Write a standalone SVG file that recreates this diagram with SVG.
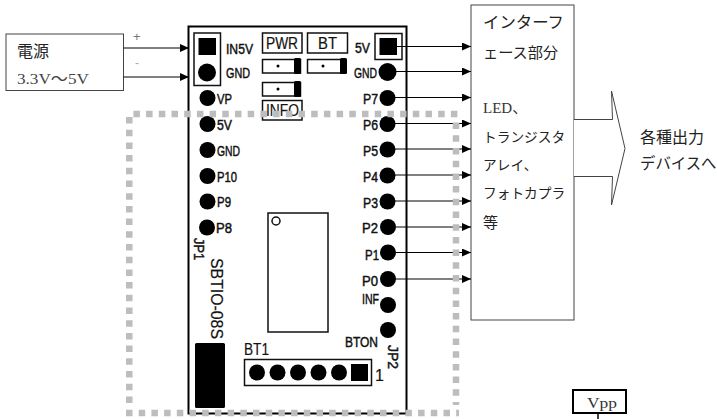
<svg xmlns="http://www.w3.org/2000/svg" width="717" height="419" viewBox="0 0 717 419">
<defs>
<marker id="a" markerUnits="userSpaceOnUse" markerWidth="9" markerHeight="8" refX="9" refY="4" orient="auto"><path d="M0 0L9 4L0 8Z" fill="#000"/></marker>
</defs>
<style>
text{font-family:"Liberation Sans",Arial,sans-serif;fill:#111}
.pcb{font-size:14px;stroke:#111;stroke-width:.45}
.big{font-size:16px;stroke:#222;stroke-width:.2}
.jp{font-family:"Noto Sans CJK JP","Liberation Sans",sans-serif;fill:#222}
.ser{font-family:"Liberation Serif","Noto Sans CJK JP",serif;font-size:15px;fill:#444}
.box{fill:#fff;stroke:#444;stroke-width:1}
.o{fill:none;stroke:#111;stroke-width:1.5}
.k{fill:#000}
.c{stroke:#000;stroke-width:1;fill:none;marker-end:url(#a)}
.d{fill:none;stroke:#bdbdbd;stroke-width:6.500;stroke-dasharray:6.500 6.200}
</style>
<g id="power"><rect class="box" x="6" y="34" width="117.500" height="56.500"/>
<text class="jp" x="17" y="57" font-size="16">電源</text>
<text class="ser" x="17" y="84" textLength="72" lengthAdjust="spacingAndGlyphs">3.3V〜5V</text>
<text x="133" y="41" font-size="13" style="fill:#777">+</text>
<text x="135" y="67" font-size="12" style="fill:#aaa">-</text></g>
<g id="board">
<rect x="188.500" y="26.500" width="218" height="387" fill="#fff" stroke="#000" stroke-width="2"/>
<rect class="o" x="194" y="33" width="26.500" height="52.500" stroke-width="2"/>
<rect class="k" x="198.500" y="38" width="17.500" height="17"/>
<circle class="k" cx="207" cy="72.500" r="9"/>
<text class="pcb" x="226" y="54" textLength="27" lengthAdjust="spacingAndGlyphs">IN5V</text>
<text class="pcb" x="226" y="78" textLength="24" lengthAdjust="spacingAndGlyphs">GND</text>
<rect class="o" x="262.500" y="33" width="39.500" height="20"/><text class="big" x="266" y="49" textLength="32" lengthAdjust="spacingAndGlyphs">PWR</text>
<rect class="o" x="307.500" y="33" width="40" height="20"/><text class="big" x="318" y="49" textLength="19" lengthAdjust="spacingAndGlyphs">BT</text>
<g id="led1"><rect class="o" x="262.500" y="59.500" width="38" height="13.500"/><rect class="k" x="294" y="58" width="7" height="16" rx="1.500"/><circle class="k" cx="278" cy="66" r="1.500"/></g>
<g id="led2"><rect class="o" x="307.500" y="59.500" width="38" height="13.500"/><rect class="k" x="340" y="58" width="7" height="16" rx="1.500"/><circle class="k" cx="323" cy="66" r="1.500"/></g>
<g id="led3"><rect class="o" x="262.500" y="82.500" width="38" height="13.500"/><rect class="k" x="294" y="81" width="7" height="16" rx="1.500"/><circle class="k" cx="278" cy="89" r="1.500"/></g>
<rect class="o" x="262.500" y="100.500" width="39.500" height="19.500"/><text class="big" x="266" y="116" textLength="33" lengthAdjust="spacingAndGlyphs">INFO</text>
<g id="jp1">
<circle class="k" cx="207.500" cy="98" r="8"/><text class="pcb" x="217" y="104" textLength="15" lengthAdjust="spacingAndGlyphs">VP</text>
<circle class="k" cx="207.500" cy="124" r="8"/><text class="pcb" x="217" y="130" textLength="15" lengthAdjust="spacingAndGlyphs">5V</text>
<circle class="k" cx="207.500" cy="150" r="8"/><text class="pcb" x="217" y="156" textLength="23" lengthAdjust="spacingAndGlyphs">GND</text>
<circle class="k" cx="207.500" cy="176" r="8"/><text class="pcb" x="217" y="182" textLength="20" lengthAdjust="spacingAndGlyphs">P10</text>
<circle class="k" cx="207.500" cy="201.500" r="8"/><text class="pcb" x="217" y="207" textLength="14" lengthAdjust="spacingAndGlyphs">P9</text>
<circle class="k" cx="207" cy="227.500" r="8"/><text class="pcb" x="216" y="233" textLength="16" lengthAdjust="spacingAndGlyphs">P8</text>
<text class="pcb" transform="translate(194 238) rotate(90)" textLength="22" lengthAdjust="spacingAndGlyphs">JP1</text>
</g>
<text class="big" transform="translate(211 258) rotate(90)" textLength="81" lengthAdjust="spacingAndGlyphs">SBTIO-08S</text>
<rect class="k" x="195" y="343" width="30" height="65" rx="1.500"/>
<rect class="o" x="268" y="213" width="60" height="119"/>
<circle cx="276" cy="221" r="4" fill="#fff" stroke="#111" stroke-width="1.500"/>
<text class="big" x="244" y="355" textLength="25" lengthAdjust="spacingAndGlyphs">BT1</text>
<g id="bt1"><rect class="o" x="244.500" y="359.500" width="127" height="26"/>
<circle class="k" cx="257" cy="372.500" r="8"/><circle class="k" cx="277.500" cy="372.500" r="8"/><circle class="k" cx="298" cy="372.500" r="8"/><circle class="k" cx="318.500" cy="372.500" r="8"/><circle class="k" cx="339" cy="372.500" r="8"/><rect class="k" x="351" y="364" width="17" height="17"/></g>
<text class="big" x="375" y="381">1</text>
<g id="jp2">
<rect class="o" x="375" y="33.500" width="27" height="26" stroke-width="2"/><rect class="k" x="379.500" y="38" width="17.500" height="17"/>
<text class="pcb" x="355" y="53" textLength="15" lengthAdjust="spacingAndGlyphs">5V</text>
<circle class="k" cx="387.500" cy="72" r="9"/><text class="pcb" x="354" y="78" textLength="23" lengthAdjust="spacingAndGlyphs">GND</text>
<circle class="k" cx="387.500" cy="98" r="8"/><text class="pcb" x="363" y="104" textLength="15" lengthAdjust="spacingAndGlyphs">P7</text>
<circle class="k" cx="387.500" cy="124" r="8"/><text class="pcb" x="363" y="130" textLength="15" lengthAdjust="spacingAndGlyphs">P6</text>
<circle class="k" cx="387.500" cy="149.500" r="8"/><text class="pcb" x="363" y="156" textLength="15" lengthAdjust="spacingAndGlyphs">P5</text>
<circle class="k" cx="387.500" cy="175.500" r="8"/><text class="pcb" x="363" y="182" textLength="15" lengthAdjust="spacingAndGlyphs">P4</text>
<circle class="k" cx="387.500" cy="201.500" r="8"/><text class="pcb" x="363" y="208" textLength="15" lengthAdjust="spacingAndGlyphs">P3</text>
<circle class="k" cx="388" cy="227" r="8"/><text class="pcb" x="362" y="233" textLength="16" lengthAdjust="spacingAndGlyphs">P2</text>
<circle class="k" cx="388" cy="252.500" r="8"/><text class="pcb" x="365" y="260" textLength="14" lengthAdjust="spacingAndGlyphs">P1</text>
<circle class="k" cx="388" cy="279" r="8"/><text class="pcb" x="362" y="286" textLength="16" lengthAdjust="spacingAndGlyphs">P0</text>
<circle class="k" cx="388" cy="305" r="8"/><text class="pcb" x="362" y="304" textLength="17" lengthAdjust="spacingAndGlyphs">INF</text>
<circle class="k" cx="388" cy="330" r="8"/><text class="pcb" x="345" y="347" textLength="33" lengthAdjust="spacingAndGlyphs">BTON</text>
<text class="pcb" transform="translate(388 345) rotate(90)" textLength="24" lengthAdjust="spacingAndGlyphs">JP2</text>
</g>
</g>
<g id="iface"><rect class="box" x="471" y="5" width="103" height="315"/>
<text class="jp" x="483" y="28" font-size="16.400">インターフ</text>
<text class="jp" x="483" y="58" font-size="15.200">ェース部分</text>
<text class="ser" x="483" y="113" style="fill:#333">LED、</text>
<text class="jp" x="483" y="142" font-size="13.700">トランジスタ</text>
<text class="jp" x="483" y="170" font-size="13.700">アレイ、</text>
<text class="jp" x="483" y="198" font-size="13.700">フォトカプラ</text>
<text class="jp" x="483" y="228" font-size="15">等</text></g>
<g id="output"><path d="M574 119.500H612.500L611.500 91L625 148.500L611.500 205L612.500 176.500H574" fill="#fff" stroke="#444" stroke-width="1"/>
<text class="jp" x="640" y="143" font-size="16">各種出力</text>
<text class="jp" x="640" y="169" font-size="15.400">デバイスへ</text></g>
<g id="connectors">
<path class="c" d="M123.500 48H189"/><path class="c" d="M123.500 77H189"/>
<path class="c" d="M397 46.500H471"/><path class="c" d="M395 71.500H471"/><path class="c" d="M395 97.500H471"/><path class="c" d="M395 123.500H471"/><path class="c" d="M395 149H471"/><path class="c" d="M395 175H471"/><path class="c" d="M395 201H471"/><path class="c" d="M396 227H471"/><path class="c" d="M396 252.500H471"/><path class="c" d="M396 279H471"/>
<path d="M598 413V419" stroke="#000" stroke-width="1.500"/>
</g>
<g id="area">
<path class="d" d="M133.400 114H459"/>
<path class="d" d="M129.300 117V405"/>
<path class="d" d="M456 122.600V405"/>
<path class="d" d="M126 413H459"/>
</g>
<g id="vpp"><rect x="573" y="390" width="53" height="23" fill="#fff" stroke="#000" stroke-width="2"/>
<text x="587" y="408" font-size="15" textLength="30" lengthAdjust="spacingAndGlyphs" style="font-family:'Liberation Serif',serif;fill:#333">Vpp</text></g>
</svg>
